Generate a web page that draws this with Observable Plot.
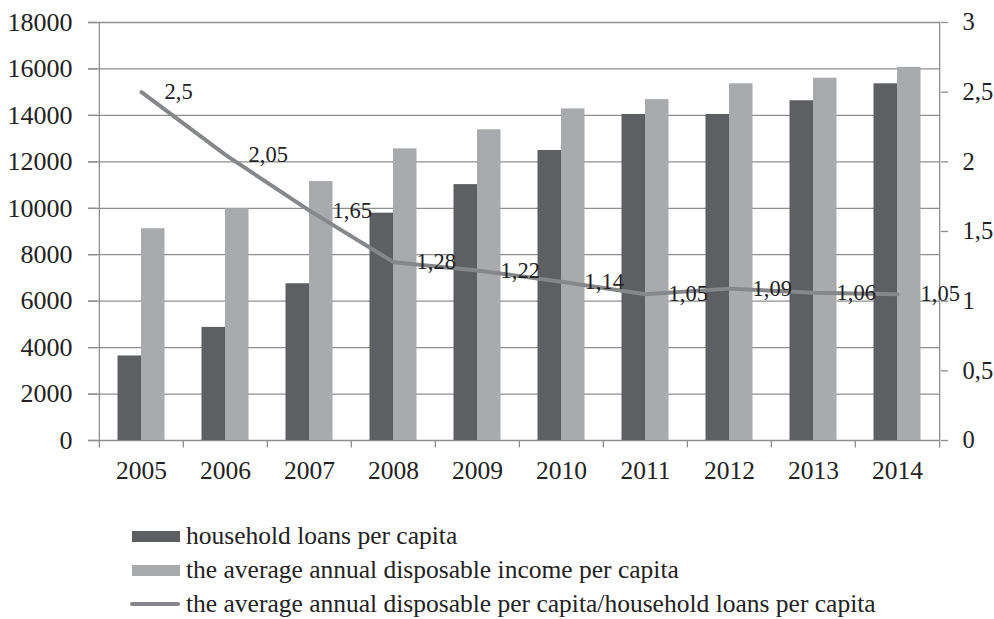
<!DOCTYPE html>
<html>
<head>
<meta charset="utf-8">
<script src="https://cdn.jsdelivr.net/npm/d3@7"></script>
<script src="https://cdn.jsdelivr.net/npm/@observablehq/plot@0.6"></script>
<style>
  body { margin: 0; background: #fff; }
  #chart svg { display: block; }
  .legend { margin-top: 19px; font-family: "Liberation Serif", "Times New Roman", serif; font-size: 25.5px; color: #222; }
  .row { height: 34px; display: flex; align-items: center; }
  .sw { display: inline-block; margin-right: 6px; }
</style>
</head>
<body>
<div id="chart"></div>
<div class="legend" id="legend"></div>
<script>
const years = ["2005","2006","2007","2008","2009","2010","2011","2012","2013","2014"];
const loans = [3640, 4870, 6750, 9790, 11020, 12490, 14040, 14040, 14630, 15360];
const income = [9120, 9980, 11150, 12560, 13380, 14280, 14680, 15360, 15600, 16070];
const ratio = [2.5, 2.05, 1.65, 1.28, 1.22, 1.14, 1.05, 1.09, 1.06, 1.05];
const leftTicks = [0, 2000, 4000, 6000, 8000, 10000, 12000, 14000, 16000, 18000];
const rightTicks = [0, 0.5, 1, 1.5, 2, 2.5, 3];
const seriesNames = [
  "household loans per capita",
  "the average annual disposable income per capita",
  "the average annual disposable per capita/household loans per capita"
];

const dark = "#5e5f63", light = "#a8aaad", lineC = "#85878a", grid = "#8e8e8e", ink = "#222";
const font = "'Liberation Serif', 'Times New Roman', serif";
const factor = 18000 / 3; // right axis max 3 maps to left axis max 18000
const fmt = d => String(d).replace(".", ",");
const W = 994, mL = 97, mR = 54;
const half = (W - mL - mR) / years.length / 2;

const chart = Plot.plot({
  width: W, height: 500,
  marginLeft: mL, marginRight: mR, marginTop: 22, marginBottom: 60,
  style: {fontFamily: font, fontSize: "24px", color: ink, background: "#fff"},
  x: {type: "band", domain: years, padding: 0, axis: null},
  y: {domain: [0, 18000], axis: null},
  marks: [
    Plot.ruleY(leftTicks, {stroke: grid, strokeWidth: 1.3, insetLeft: -9}),
    Plot.ruleX(years, {x: years, dx: -half, y1: 0, y2: -320, stroke: grid, strokeWidth: 1.3}),
    Plot.ruleX([years[years.length - 1]], {x: d => d, dx: half, y1: 0, y2: -320, stroke: grid, strokeWidth: 1.3}),
    Plot.ruleX([years[0]], {x: d => d, dx: -half, y1: 0, y2: 18000, stroke: grid, strokeWidth: 1.3}),
    Plot.ruleX([years[years.length - 1]], {x: d => d, dx: half, y1: 0, y2: 18000, stroke: grid, strokeWidth: 1.3}),
    Plot.barY(loans, {x: years, y: d => d, fill: dark, insetLeft: 18.5, insetRight: 42}),
    Plot.barY(income, {x: years, y: d => d, fill: light, insetLeft: 42, insetRight: 18.5}),
    Plot.lineY(ratio, {x: years, y: d => d * factor, stroke: lineC, strokeWidth: 4}),
    Plot.text(ratio, {x: years, y: d => d * factor, text: d => fmt(d), textAnchor: "start", dx: 23, fontSize: 22.5, fill: ink}),
    Plot.axisY({ticks: leftTicks, anchor: "left", tickSize: 9, tickPadding: 16, stroke: grid, strokeWidth: 1.3, tickFormat: d => String(d), fill: ink, fontSize: 26}),
    Plot.axisY({ticks: rightTicks.map(t => t * factor), anchor: "right", tickSize: 7, tickPadding: 15, stroke: grid, strokeWidth: 1.3, tickFormat: d => fmt(d / factor), fill: ink, fontSize: 24.5}),
    Plot.axisX({anchor: "bottom", tickSize: 0, tickPadding: 20, fill: ink, fontSize: 25.5})
  ]
});
document.getElementById("chart").appendChild(chart);

const legend = document.getElementById("legend");
const swatches = [
  {color: dark, type: "rect"},
  {color: light, type: "rect"},
  {color: lineC, type: "line"}
];
seriesNames.forEach((name, i) => {
  const row = document.createElement("div");
  row.className = "row";
  const sw = document.createElement("span");
  sw.className = "sw";
  if (swatches[i].type === "rect") {
    sw.style.cssText = `width:48px;height:11px;background:${swatches[i].color};margin-left:132px;`;
  } else {
    sw.style.cssText = `width:50px;height:4px;background:${swatches[i].color};margin-left:130px;border-radius:2px;`;
  }
  const t = document.createElement("span");
  t.textContent = name;
  row.appendChild(sw);
  row.appendChild(t);
  legend.appendChild(row);
});
</script>
</body>
</html>
